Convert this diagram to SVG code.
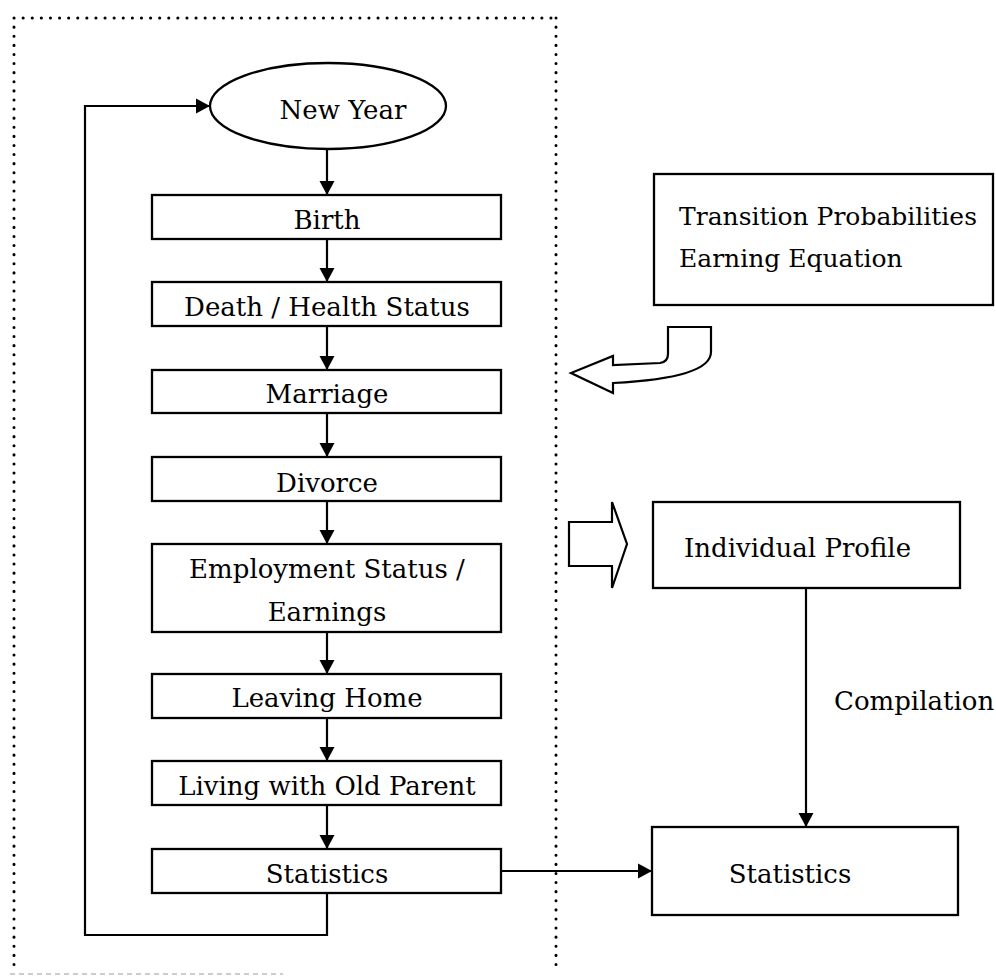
<svg xmlns="http://www.w3.org/2000/svg" width="996" height="976" viewBox="0 0 996 976">
<style>
.box{fill:#fff;stroke:#000;stroke-width:2.3}
.t{font-family:"DejaVu Serif","Liberation Serif",serif;font-size:26px;fill:#000}
.s{font-size:25px}
.c{text-anchor:middle}
.ln{fill:none;stroke:#000;stroke-width:2.2}
.dot{fill:none;stroke:#000;stroke-width:3;stroke-linecap:round;stroke-dasharray:0.1 9}
</style>
<defs>
<marker id="ah" markerUnits="userSpaceOnUse" markerWidth="16" markerHeight="16" viewBox="0 0 16 16" refX="15" refY="8" orient="auto">
<path d="M1,0.5 L15,8 L1,15.5 Z" fill="#000"/>
</marker>
</defs>
<rect width="996" height="976" fill="#fff"/>
<g id="frame">
<path class="dot" d="M14,18 H556 M14,18 V970 M556,18 V970"/>
<path d="M10,974 H283" fill="none" stroke="#999" stroke-width="1" stroke-dasharray="5 4"/>
</g>
<g id="connectors">
<path class="ln" d="M327,149 V195" marker-end="url(#ah)"/>
<path class="ln" d="M327,239 V282" marker-end="url(#ah)"/>
<path class="ln" d="M327,326 V370" marker-end="url(#ah)"/>
<path class="ln" d="M327,413 V457" marker-end="url(#ah)"/>
<path class="ln" d="M327,501 V544" marker-end="url(#ah)"/>
<path class="ln" d="M327,632 V674" marker-end="url(#ah)"/>
<path class="ln" d="M327,718 V761" marker-end="url(#ah)"/>
<path class="ln" d="M327,805 V849" marker-end="url(#ah)"/>
<path class="ln" d="M327,893 V935 H85 V106 H210" marker-end="url(#ah)"/>
<path class="ln" d="M501,871 H652" marker-end="url(#ah)"/>
<path class="ln" d="M806,588 V827" stroke-width="1.8" marker-end="url(#ah)"/>
<path d="M668,327 L711,327 L711,352 Q711,378 613,383 L613,393 L571,373 L613,356 L613,365 L660,363 Q668,362 668,354 Z" fill="#fff" stroke="#000" stroke-width="2.2" stroke-linejoin="miter"/>
<path d="M569,522 H612 V502 L627,544 L612,588 V566 H569 Z" fill="#fff" stroke="#000" stroke-width="2.2"/>
</g>
<g id="newyear">
<ellipse cx="328" cy="106" rx="118" ry="43" class="box"/>
<text x="343" y="119" class="t c">New Year</text>
</g>
<g id="birth">
<rect x="152" y="195" width="349" height="44" class="box"/>
<text x="327" y="229" class="t c">Birth</text>
</g>
<g id="death">
<rect x="152" y="282" width="349" height="44" class="box"/>
<text x="327" y="316" class="t c">Death / Health Status</text>
</g>
<g id="marriage">
<rect x="152" y="370" width="349" height="43" class="box"/>
<text x="327" y="403" class="t c">Marriage</text>
</g>
<g id="divorce">
<rect x="152" y="457" width="349" height="44" class="box"/>
<text x="327" y="492" class="t c">Divorce</text>
</g>
<g id="employment">
<rect x="152" y="544" width="349" height="88" class="box"/>
<text x="327" y="578" class="t c">Employment Status /</text>
<text x="327" y="621" class="t c">Earnings</text>
</g>
<g id="leaving">
<rect x="152" y="674" width="349" height="44" class="box"/>
<text x="327" y="707" class="t c">Leaving Home</text>
</g>
<g id="living">
<rect x="152" y="761" width="349" height="44" class="box"/>
<text x="327" y="795" class="t c">Living with Old Parent</text>
</g>
<g id="statistics-left">
<rect x="152" y="849" width="349" height="44" class="box"/>
<text x="327" y="883" class="t c">Statistics</text>
</g>
<g id="transition">
<rect x="654" y="174" width="339" height="131" class="box"/>
<text x="679" y="225" class="t s">Transition Probabilities</text>
<text x="679" y="267" class="t s">Earning Equation</text>
</g>
<g id="profile">
<rect x="653" y="502" width="307" height="86" class="box"/>
<text x="684" y="557" class="t">Individual Profile</text>
</g>
<g id="compilation">
<text x="834" y="710" class="t">Compilation</text>
</g>
<g id="statistics-right">
<rect x="652" y="827" width="306" height="88" class="box"/>
<text x="790" y="883" class="t c">Statistics</text>
</g>
</svg>
